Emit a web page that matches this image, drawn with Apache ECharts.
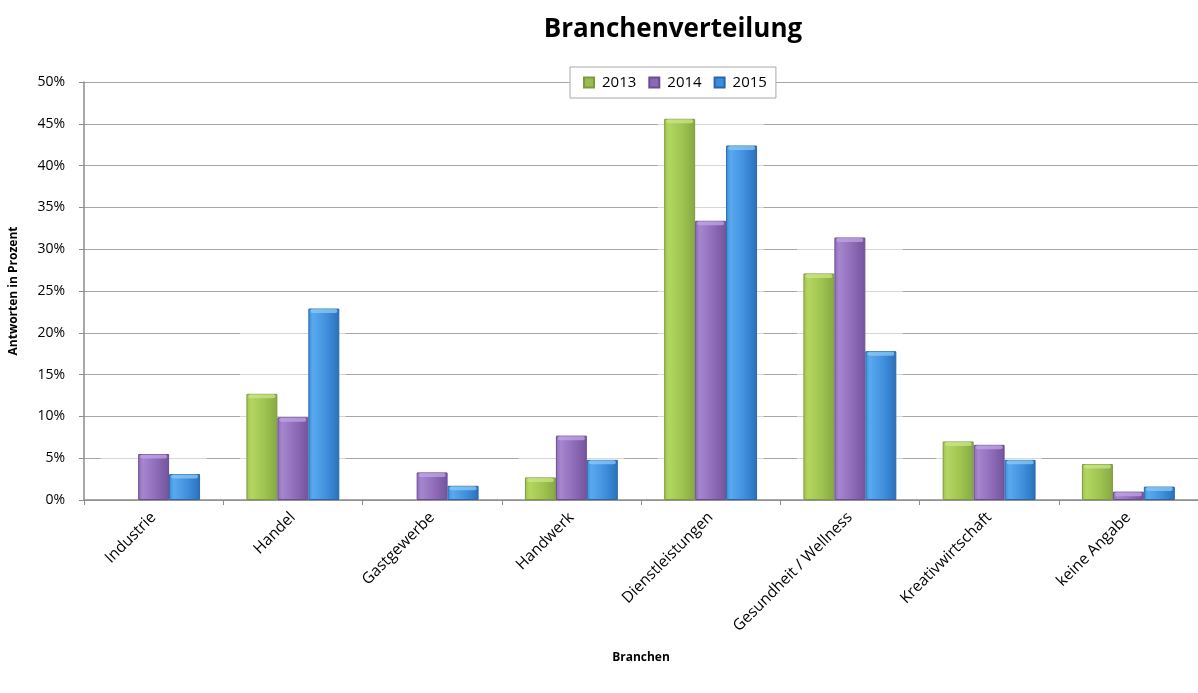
<!DOCTYPE html>
<html>
<head>
<meta charset="utf-8">
<title>Branchenverteilung</title>
<script src="https://cdn.jsdelivr.net/npm/echarts@6/dist/echarts.min.js"></script>
<style>
  html, body { margin: 0; padding: 0; background: #ffffff; }
  #chart { width: 1198px; height: 693px; }
</style>
</head>
<body>
<div id="chart"></div>
<script>
// Branchen (categories) and shares per survey year, in percent
const categories = ['Industrie', 'Handel', 'Gastgewerbe', 'Handwerk', 'Dienstleistungen',
  'Gesundheit / Wellness', 'Kreativwirtschaft', 'keine Angabe'];
const years = ['2013', '2014', '2015'];
const values2013 = [0, 12.7, 0, 2.7, 45.6, 27.1, 7.0, 4.3];
const values2014 = [5.5, 9.9, 3.3, 7.7, 33.4, 31.4, 6.6, 1.0];
const values2015 = [3.1, 22.9, 1.7, 4.8, 42.4, 17.8, 4.8, 1.6];
const yTicks = [0, 5, 10, 15, 20, 25, 30, 35, 40, 45, 50];

const FONT = '"Open Sans", "DejaVu Sans", sans-serif';

function barGradient(light, mid, dark) {
  return new echarts.graphic.LinearGradient(0, 0, 1, 0, [
    { offset: 0, color: mid },
    { offset: 0.15, color: light },
    { offset: 0.6, color: mid },
    { offset: 1, color: dark }
  ]);
}

const palette = [
  { fill: barGradient('#b3d660', '#9fc350', '#86a842'), border: '#7d9b3e', cap: '#cbe58a', legend: '#9bbb59' },
  { fill: barGradient('#a686cf', '#8e6bb8', '#72549c'), border: '#6a4e92', cap: '#c2a6e6', legend: '#8c69b6' },
  { fill: barGradient('#58a9ee', '#3f8fdd', '#2b70ba'), border: '#2a66a8', cap: '#8ccaf6', legend: '#3d8ddb' }
];

const seriesValues = [values2013, values2014, values2015];

// soft white haze behind each group of bars (lightens the grid lines there)
const groupTop = categories.map((c, i) => Math.max(values2013[i], values2014[i], values2015[i]));

function renderHaze(params, api) {
  const idx = api.value(0);
  const top = api.value(1);
  const base = api.coord([idx, 0]);
  const peak = api.coord([idx, top]);
  const band = api.size([1, 0])[0];
  const half = band * 0.38;
  return {
    type: 'rect',
    shape: { x: base[0] - half, y: peak[1] + 4, width: half * 2, height: base[1] - peak[1] - 6 },
    style: { fill: 'rgba(255,255,255,0.55)' },
    silent: true
  };
}

// a lighter rounded cap on top of every bar
function makeCapRenderer(seriesIndex) {
  return function (params, api) {
    const idx = api.value(0);
    const v = api.value(1);
    if (!v) return null;
    const band = api.size([1, 0])[0];
    const barW = band / 4.5;
    const center = api.coord([idx, v]);
    const x = center[0] - band / 2 + band * (0.75 / 4.5) + seriesIndex * barW;
    return {
      type: 'rect',
      shape: { x: x + 2, y: center[1] + 0.5, width: barW - 4, height: 4, r: 2 },
      style: { fill: palette[seriesIndex].cap, opacity: 0.75 },
      silent: true
    };
  };
}

const chart = echarts.init(document.getElementById('chart'), null, { renderer: 'canvas' });

const barSeries = years.map((y, i) => ({
  name: y,
  type: 'bar',
  z: 3,
  data: seriesValues[i].map(v => (v === 0 ? { value: 0, itemStyle: { borderWidth: 0 } } : v)),
  barGap: '0%',
  barCategoryGap: '33.3%',
  itemStyle: {
    color: palette[i].fill,
    borderColor: palette[i].border,
    borderWidth: 1
  }
}));

const capSeries = years.map((y, i) => ({
  type: 'custom',
  z: 4,
  silent: true,
  renderItem: makeCapRenderer(i),
  data: seriesValues[i].map((v, k) => [k, v])
}));

chart.setOption({
  animation: false,
  backgroundColor: '#ffffff',
  title: {
    text: 'Branchenverteilung',
    left: 668,
    top: 12,
    textAlign: 'center',
    textStyle: { fontFamily: FONT, fontSize: 26, fontWeight: 'bold', color: '#000000' }
  },
  legend: {
    data: years.map((y, i) => ({ name: y, itemStyle: { color: palette[i].legend } })),
    left: 570,
    top: 67,
    padding: [8, 9, 8, 13],
    itemWidth: 10,
    itemHeight: 10,
    itemGap: 12,
    icon: 'rect',
    backgroundColor: '#ffffff',
    borderColor: '#a8a8a8',
    borderWidth: 1,
    z: 10,
    textStyle: { fontFamily: FONT, fontSize: 15, color: '#000000', padding: [0, 0, 0, 3] }
  },
  grid: { left: 82, top: 82, width: 1121, height: 418, containLabel: false },
  xAxis: {
    type: 'category',
    data: categories,
    name: 'Branchen',
    nameLocation: 'middle',
    nameGap: 152,
    nameTextStyle: { fontFamily: FONT, fontSize: 12, fontWeight: 'bold', color: '#000000' },
    axisLine: { lineStyle: { color: '#8c8c8c', width: 1.5 } },
    axisTick: { show: true, length: 5, lineStyle: { color: '#8c8c8c' } },
    axisLabel: {
      rotate: 45,
      margin: 15,
      interval: 0,
      fontFamily: FONT,
      fontSize: 15.5,
      color: '#000000'
    }
  },
  yAxis: {
    type: 'value',
    min: 0,
    max: 50,
    interval: 5,
    name: 'Antworten in Prozent',
    nameLocation: 'middle',
    nameRotate: 90,
    nameGap: 64,
    nameTextStyle: { fontFamily: FONT, fontSize: 12, fontWeight: 'bold', color: '#000000' },
    axisLine: { show: true, lineStyle: { color: '#8c8c8c', width: 1.5 } },
    axisTick: { show: true, length: 5, lineStyle: { color: '#8c8c8c' } },
    splitLine: { lineStyle: { color: '#a6a6a6', width: 1.2 } },
    axisLabel: {
      margin: 19,
      fontFamily: FONT,
      fontSize: 14,
      color: '#000000',
      formatter: v => (yTicks.indexOf(v) >= 0 ? v + '%' : '')
    }
  },
  series: [{
    type: 'custom',
    z: 1,
    silent: true,
    renderItem: renderHaze,
    data: groupTop.map((v, k) => [k, v])
  }].concat(barSeries, capSeries)
});
</script>
</body>
</html>
